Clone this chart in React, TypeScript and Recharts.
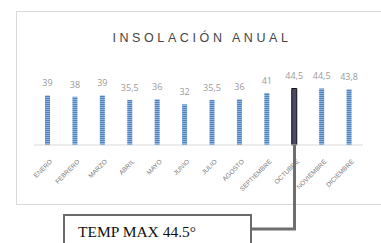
import React from 'react';
import { BarChart, Bar, XAxis, YAxis, LabelList, Cell } from 'recharts';

const months = ['ENERO', 'FEBRERO', 'MARZO', 'ABRIL', 'MAYO', 'JUNIO', 'JULIO', 'AGOSTO', 'SEPTIEMBRE', 'OCTUBRE', 'NOVIEMBRE', 'DICIEMBRE'];
const insolation = [39, 38, 39, 35.5, 36, 32, 35.5, 36, 41, 44.5, 44.5, 43.8];
const highlightMonth = 'OCTUBRE';
const title = 'INSOLACIÓN ANUAL';
const calloutText = 'TEMP MAX 44.5°';

const data = months.map((m, i) => ({ month: m, value: insolation[i] }));

const fmt = (v: any) => String(v).replace('.', ',');

const MonthTick = (props: any) => {
  const { x, y, payload } = props;
  const tx = x + 5;
  const ty = y + 9;
  return (
    <text
      x={tx}
      y={ty}
      transform={`rotate(-45, ${tx}, ${ty})`}
      textAnchor="end"
      fontSize={6.5}
      fill="#7a7a7a"
      fontFamily="'Liberation Sans', Arial, sans-serif"
    >
      {payload.value}
    </text>
  );
};

export default function App() {
  return (
    <div style={{ position: 'absolute', left: 0, top: 0, width: 381, height: 243, background: '#fff', overflow: 'hidden' }}>
      <div style={{ position: 'absolute', left: 16, top: 11, width: 375, height: 192, border: '1px solid #d9d9d9' }} />
      <div style={{ position: 'absolute', left: 0, top: 0 }}>
        <BarChart width={381} height={243} data={data} margin={{ top: 81.5, right: 18, left: 34, bottom: 38 }}>
          <defs>
            <pattern id="stripes" width="4" height="2" patternUnits="userSpaceOnUse">
              <rect width="4" height="2" fill="#8fb5e3" />
              <rect width="4" height="1" fill="#4f81bd" />
            </pattern>
          </defs>
          <XAxis
            dataKey="month"
            height={60}
            axisLine={{ stroke: '#d9d9d9' }}
            tickLine={false}
            interval={0}
            tick={<MonthTick />}
          />
          <YAxis hide domain={[0, 50]} />
          <Bar dataKey="value" barSize={5} fill="url(#stripes)" isAnimationActive={false}>
            {data.map((d) => (
              <Cell
                key={d.month}
                fill={d.month === highlightMonth ? '#4a4a68' : 'url(#stripes)'}
                stroke={d.month === highlightMonth ? '#111' : 'none'}
                strokeWidth={d.month === highlightMonth ? 1 : 0}
              />
            ))}
            <LabelList
              dataKey="value"
              position="top"
              offset={9}
              formatter={fmt}
              fontSize={9}
              fill="#9a9a9a"
              fontFamily="'Open Sans', 'Liberation Sans', sans-serif"
            />
          </Bar>
        </BarChart>
      </div>
      <svg width={381} height={243} style={{ position: 'absolute', left: 0, top: 0 }}>
        <text
          x={202}
          y={41.5}
          textAnchor="middle"
          fontSize={12.5}
          letterSpacing={3.6}
          fill="#454545"
          fontFamily="'Liberation Sans', Arial, sans-serif"
        >
          {title}
        </text>
        <polyline points="251,229 294.5,229 294.5,145" fill="none" stroke="#6e6e6e" strokeWidth={3} />
        <rect x={64} y={215} width={187} height={40} fill="#fff" stroke="#6a6a6a" strokeWidth={2} />
        <text x={78} y={237} fontSize={15.5} fill="#111" fontFamily="'Liberation Serif', 'Times New Roman', serif">
          {calloutText}
        </text>
      </svg>
    </div>
  );
}
